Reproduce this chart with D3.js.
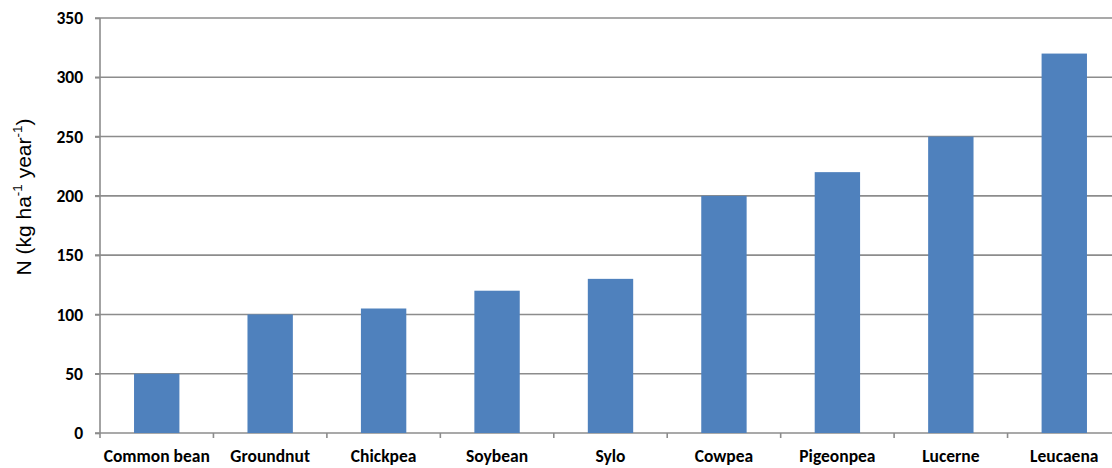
<!DOCTYPE html>
<html>
<head>
<meta charset="utf-8">
<script src="https://cdn.jsdelivr.net/npm/d3@7/dist/d3.min.js"></script>
<style>
  html, body { margin: 0; padding: 0; background: #fff; }
  svg { display: block; }
</style>
</head>
<body>
<svg id="chart" width="1112" height="468"></svg>
<script>
// Nitrogen fixed by legume species
const categories = ["Common bean", "Groundnut", "Chickpea", "Soybean", "Sylo", "Cowpea", "Pigeonpea", "Lucerne", "Leucaena"];
const nValues = [50, 100, 105, 120, 130, 200, 220, 250, 320];
const yTicks = [0, 50, 100, 150, 200, 250, 300, 350];

const svg = d3.select("#chart");
const plotLeft = 100, plotRight = 1121, plotTop = 18, plotBottom = 433;

const x = d3.scaleBand().domain(categories).range([plotLeft, plotRight]).paddingInner(0.6).paddingOuter(0.3);
const y = d3.scaleLinear().domain([0, 350]).range([plotBottom, plotTop]);

const labelFont = "Carlito, 'Open Sans', 'Liberation Sans', sans-serif";
const titleFont = "'Liberation Sans', Arial, sans-serif";

// horizontal gridlines
svg.append("g")
  .selectAll("line")
  .data(yTicks)
  .join("line")
  .attr("x1", plotLeft - 5).attr("x2", 1112)
  .attr("y1", d => y(d)).attr("y2", d => y(d))
  .attr("stroke", "#8c8c8c").attr("stroke-width", 1.6);

// bars
svg.append("g")
  .selectAll("rect")
  .data(nValues)
  .join("rect")
  .attr("x", (d, i) => x(categories[i]))
  .attr("width", x.bandwidth())
  .attr("y", d => y(d))
  .attr("height", d => y(0) - y(d))
  .attr("fill", "#4f81bd");

// y axis
const yAxis = svg.append("g")
  .attr("transform", `translate(${plotLeft},0)`)
  .call(d3.axisLeft(y).tickValues(yTicks).tickSize(5).tickPadding(12));
yAxis.select(".domain").attr("stroke", "#8c8c8c").attr("stroke-width", 1.6).attr("d", `M0,${plotTop}V${plotBottom}`);
yAxis.selectAll(".tick line").attr("stroke", "#8c8c8c").attr("stroke-width", 1.6);
yAxis.selectAll(".tick text")
  .attr("font-family", labelFont).attr("font-size", 17.5).attr("font-weight", "bold").attr("fill", "#000");

// x axis
const step = x.step();
const xAxis = svg.append("g")
  .attr("transform", `translate(0,${plotBottom})`)
  .call(d3.axisBottom(x).tickSize(0).tickPadding(17));
xAxis.select(".domain").remove();
xAxis.selectAll(".tick text")
  .attr("font-family", labelFont).attr("font-size", 17.5).attr("font-weight", "bold").attr("fill", "#000");
// category separator ticks
svg.append("g")
  .selectAll("line")
  .data(categories)
  .join("line")
  .attr("x1", (d, i) => plotLeft + i * step).attr("x2", (d, i) => plotLeft + i * step)
  .attr("y1", plotBottom).attr("y2", plotBottom + 5)
  .attr("stroke", "#8c8c8c").attr("stroke-width", 1.6);

// y axis title
const title = svg.append("text")
  .attr("transform", "translate(31,197) rotate(-90)")
  .attr("text-anchor", "middle")
  .attr("font-family", titleFont).attr("font-size", 21).attr("fill", "#000");
title.append("tspan").text("N (kg  ha");
title.append("tspan").attr("font-size", 13.5).attr("dy", -9).text("-1");
title.append("tspan").attr("dy", 9).text(" year");
title.append("tspan").attr("font-size", 13.5).attr("dy", -9).text("-1");
title.append("tspan").attr("dy", 9).text(")");
</script>
</body>
</html>
